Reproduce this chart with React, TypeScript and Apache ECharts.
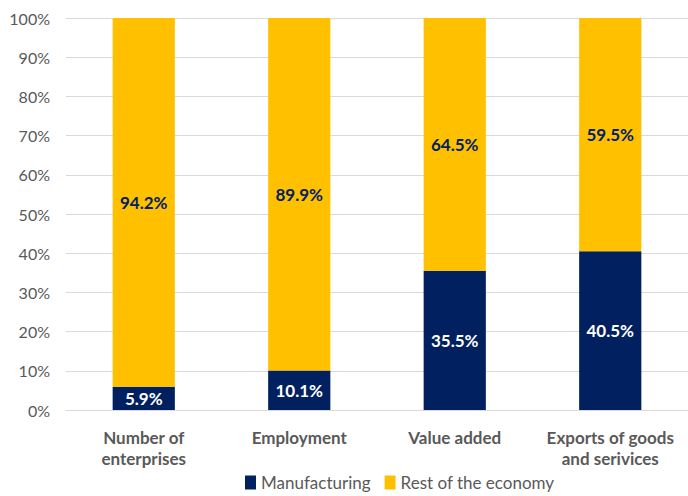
import React, { useEffect, useRef } from "react";
import * as echarts from "echarts";

const categories = ["Number of\nenterprises", "Employment", "Value added", "Exports of goods\nand serivices"];
const manufacturing = [5.9, 10.1, 35.5, 40.5];
const restOfEconomy = [94.2, 89.9, 64.5, 59.5];
const seriesNames = ["Manufacturing", "Rest of the economy"];

const FONT = "Lato, 'Open Sans', sans-serif";

export default function App() {
  const ref = useRef<HTMLDivElement>(null);
  useEffect(() => {
    document.body.style.margin = "0";
    const chart = echarts.init(ref.current!, null, { renderer: "svg" });
    chart.setOption({
      animation: false,
      textStyle: { fontFamily: FONT },
      grid: { left: 66, top: 18, width: 627, height: 392, containLabel: false },
      legend: {
        bottom: 0,
        left: 240,
        itemWidth: 11,
        itemHeight: 14,
        itemGap: 14,
        icon: "rect",
        textStyle: { color: "#595959", fontSize: 17, fontFamily: FONT },
        data: seriesNames,
      },
      xAxis: {
        type: "category",
        data: categories,
        axisLine: { lineStyle: { color: "#D9D9D9", width: 1 } },
        axisTick: { show: false },
        axisLabel: {
          color: "#595959",
          fontSize: 17,
          fontWeight: "bold",
          margin: 17,
          lineHeight: 21,
          fontFamily: FONT,
          interval: 0,
        },
      },
      yAxis: {
        type: "value",
        min: 0,
        max: 100,
        interval: 10,
        axisLine: { show: false },
        axisTick: { show: false },
        splitLine: { lineStyle: { color: "#D9D9D9", width: 1 } },
        axisLabel: {
          color: "#595959",
          fontSize: 16,
          margin: 16,
          formatter: (v: number) => v + "%",
          fontFamily: FONT,
        },
      },
      series: [
        {
          name: seriesNames[0],
          type: "bar",
          stack: "total",
          barWidth: "40%",
          data: manufacturing,
          itemStyle: { color: "#002060" },
          label: {
            show: true,
            position: "inside",
            color: "#FFFFFF",
            fontWeight: "bold",
            fontSize: 17,
            fontFamily: FONT,
            formatter: (p: any) => p.value.toFixed(1) + "%",
          },
        },
        {
          name: seriesNames[1],
          type: "bar",
          stack: "total",
          barWidth: "40%",
          data: restOfEconomy,
          itemStyle: { color: "#FFC000" },
          label: {
            show: true,
            position: "inside",
            color: "#002060",
            fontWeight: "bold",
            fontSize: 17,
            fontFamily: FONT,
            formatter: (p: any) => p.value.toFixed(1) + "%",
          },
        },
      ],
    });
    return () => chart.dispose();
  }, []);
  return <div ref={ref} style={{ width: 688, height: 496 }} />;
}
